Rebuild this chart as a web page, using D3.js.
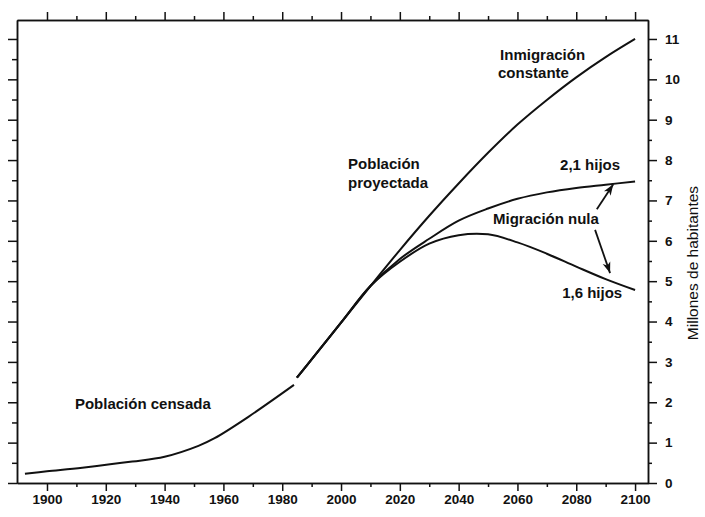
<!DOCTYPE html>
<html>
<head>
<meta charset="utf-8">
<script src="https://cdn.jsdelivr.net/npm/d3@7"></script>
<style>
  body { margin: 0; background: #fff; }
  svg { display: block; font-family: "Liberation Sans", Arial, Helvetica, sans-serif; }
  .lbl { font-size: 15px; font-weight: bold; fill: #111; }
  .axis text { font-size: 13.5px; font-weight: bold; fill: #111; font-family: "Liberation Sans", Arial, sans-serif; }
  .axis path, .axis line { stroke: #111; stroke-width: 1.5; }
</style>
</head>
<body>
<div id="chart"></div>
<script>
// Censused population (millions)
const censusYears = [1892.5, 1900, 1912, 1929, 1940, 1951.5, 1957, 1968.5, 1984];
const censusValues = [0.23, 0.29, 0.38, 0.53, 0.65, 0.92, 1.11, 1.64, 2.43];

// Projected population (millions), three scenarios sharing the same start
const projYears = [1985, 1990, 2000, 2010, 2020, 2030, 2040, 2050, 2060, 2070, 2080, 2090, 2100];
const immigrationValues = [2.61, 3.06, 3.97, 4.88, 5.77, 6.62, 7.42, 8.18, 8.88, 9.49, 10.05, 10.55, 11.0];
const hijos21Values = [2.61, 3.06, 3.97, 4.88, 5.55, 6.05, 6.50, 6.80, 7.04, 7.20, 7.31, 7.39, 7.47];
const hijos16Values = [2.61, 3.06, 3.97, 4.88, 5.48, 5.93, 6.14, 6.16, 5.96, 5.68, 5.36, 5.05, 4.78];

// Tick values
const xMajorTicks = [1900, 1920, 1940, 1960, 1980, 2000, 2020, 2040, 2060, 2080, 2100];
const xMinorTicks = [1910, 1930, 1950, 1970, 1990, 2010, 2030, 2050, 2070, 2090];
const yMajorTicks = [0, 1, 2, 3, 4, 5, 6, 7, 8, 9, 10, 11];
const yMinorTicks = [0.5, 1.5, 2.5, 3.5, 4.5, 5.5, 6.5, 7.5, 8.5, 9.5, 10.5];

// Annotation texts, anchored in data units (year, millions)
const labelTexts = ['Población censada', 'Población', 'proyectada', 'Inmigración', 'constante', '2,1 hijos', 'Migración nula', '1,6 hijos'];
const labelYears = [1909.5, 2002.4, 2002.4, 2054.1, 2053.4, 2074.5, 2051.7, 2075.2];
const labelValues = [1.83, 7.78, 7.30, 10.48, 10.04, 7.76, 6.42, 4.58];

// Arrows from "Migración nula" to the two curves
const arrowFrom = [[2087.0, 6.78], [2086.4, 6.27]];
const arrowTo = [[2092.6, 7.40], [2091.5, 5.20]];

const width = 705;
const height = 517;

const svg = d3.select('#chart')
  .append('svg')
  .attr('width', width)
  .attr('height', height);

svg.append('rect').attr('width', width).attr('height', height).attr('fill', '#fff');

// Scales
const xScale = d3.scaleLinear().domain([1889.8, 2104.4]).range([17, 648]);
const yScale = d3.scaleLinear().domain([0, 11.47]).range([483, 20]);

const [x0, x1] = xScale.range();
const [y0, y1] = yScale.range();

// Bottom axis: major with labels, minor without
svg.append('g')
  .attr('class', 'axis')
  .attr('transform', `translate(0,${y0})`)
  .call(d3.axisBottom(xScale).tickValues(xMajorTicks).tickSize(8).tickSizeOuter(0).tickPadding(3).tickFormat(d3.format('d')));
svg.append('g')
  .attr('class', 'axis')
  .attr('transform', `translate(0,${y0})`)
  .call(d3.axisBottom(xScale).tickValues(xMinorTicks).tickSize(4).tickSizeOuter(0).tickFormat(''));

// Top axis
svg.append('g')
  .attr('class', 'axis')
  .attr('transform', `translate(0,${y1})`)
  .call(d3.axisTop(xScale).tickValues(xMajorTicks).tickSize(8).tickSizeOuter(0).tickFormat(''));
svg.append('g')
  .attr('class', 'axis')
  .attr('transform', `translate(0,${y1})`)
  .call(d3.axisTop(xScale).tickValues(xMinorTicks).tickSize(4).tickSizeOuter(0).tickFormat(''));

// Left axis (ticks only)
svg.append('g')
  .attr('class', 'axis')
  .attr('transform', `translate(${x0},0)`)
  .call(d3.axisLeft(yScale).tickValues(yMajorTicks).tickSize(9).tickSizeOuter(0).tickFormat(''));
svg.append('g')
  .attr('class', 'axis')
  .attr('transform', `translate(${x0},0)`)
  .call(d3.axisLeft(yScale).tickValues(yMinorTicks).tickSize(5).tickSizeOuter(0).tickFormat(''));

// Right axis with labels
svg.append('g')
  .attr('class', 'axis')
  .attr('transform', `translate(${x1},0)`)
  .call(d3.axisRight(yScale).tickValues(yMajorTicks).tickSize(9).tickSizeOuter(0).tickPadding(8).tickFormat(d3.format('d')));
svg.append('g')
  .attr('class', 'axis')
  .attr('transform', `translate(${x1},0)`)
  .call(d3.axisRight(yScale).tickValues(yMinorTicks).tickSize(4).tickSizeOuter(0).tickFormat(''));

// Right axis title
svg.append('text')
  .attr('transform', `translate(698,${yScale(5.45)}) rotate(-90)`)
  .attr('text-anchor', 'middle')
  .style('font-size', '15.5px')
  .style('fill', '#111')
  .text('Millones de habitantes');

// Lines
const line = d3.line()
  .x(d => xScale(d[0]))
  .y(d => yScale(d[1]))
  .curve(d3.curveCatmullRom.alpha(0.5));

const series = [
  d3.zip(censusYears, censusValues),
  d3.zip(projYears, immigrationValues),
  d3.zip(projYears, hijos21Values),
  d3.zip(projYears, hijos16Values)
];

svg.selectAll('.series')
  .data(series)
  .enter()
  .append('path')
  .attr('class', 'series')
  .attr('d', line)
  .attr('fill', 'none')
  .attr('stroke', '#111')
  .attr('stroke-width', 2);

// Labels
svg.selectAll('.lbl')
  .data(labelTexts)
  .enter()
  .append('text')
  .attr('class', 'lbl')
  .attr('x', (d, i) => xScale(labelYears[i]))
  .attr('y', (d, i) => yScale(labelValues[i]))
  .text(d => d);

// Arrowhead marker
svg.append('defs')
  .append('marker')
  .attr('id', 'arrow')
  .attr('viewBox', '-12 -5 14 10')
  .attr('refX', 0)
  .attr('refY', 0)
  .attr('markerWidth', 14)
  .attr('markerHeight', 10)
  .attr('markerUnits', 'userSpaceOnUse')
  .attr('orient', 'auto')
  .append('path')
  .attr('d', 'M0,0 L-11,-4 L-8,0 L-11,4 Z')
  .attr('fill', '#111');

svg.selectAll('.arrow')
  .data(arrowFrom)
  .enter()
  .append('line')
  .attr('class', 'arrow')
  .attr('x1', d => xScale(d[0]))
  .attr('y1', d => yScale(d[1]))
  .attr('x2', (d, i) => xScale(arrowTo[i][0]))
  .attr('y2', (d, i) => yScale(arrowTo[i][1]))
  .attr('stroke', '#111')
  .attr('stroke-width', 1.8)
  .attr('marker-end', 'url(#arrow)');
</script>
</body>
</html>
